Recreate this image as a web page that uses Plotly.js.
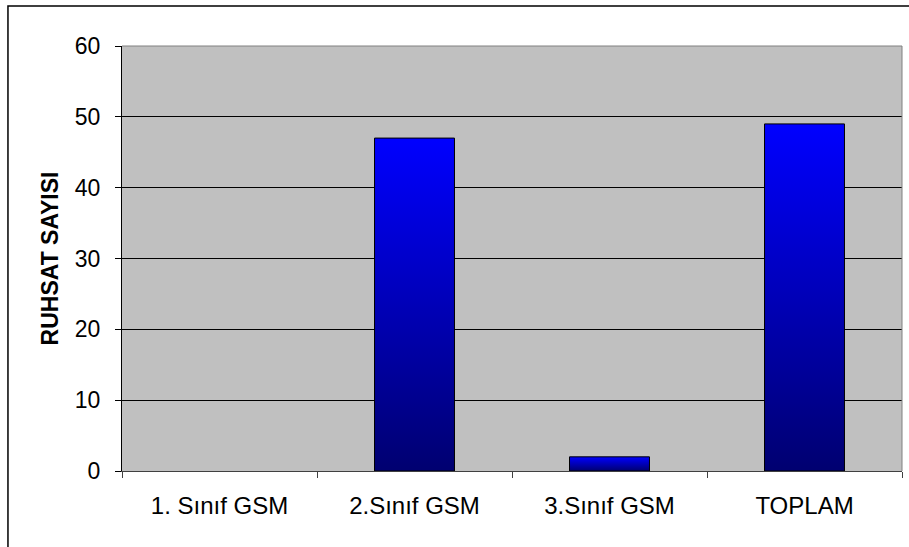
<!DOCTYPE html>
<html>
<head>
<meta charset="utf-8">
<script src="https://cdn.plot.ly/plotly-3.0.1.min.js"></script>
<style>
  html, body { margin: 0; padding: 0; background: #ffffff; }
  #chart { width: 909px; height: 547px; }
</style>
</head>
<body>
<div id="chart"></div>
<script>
// ---- data ----
const categories = ['1. Sınıf GSM', '2.Sınıf GSM', '3.Sınıf GSM', 'TOPLAM'];
const values = [0, 47, 2, 49];
const yTickValues = [0, 10, 20, 30, 40, 50, 60];
const yAxisTitle = 'RUHSAT SAYISI';

// ---- styling ----
const FONT = 'Arial, "Liberation Sans", sans-serif';
const BAR_HALF = 0.205;
const GRADIENT = [[0, '#000070'], [1, '#0000FF']];

const traces = categories.map((cat, i) => ({
  type: 'scatter',
  mode: 'lines',
  name: cat,
  x: [i - BAR_HALF, i + BAR_HALF, i + BAR_HALF, i - BAR_HALF, i - BAR_HALF],
  y: [0, 0, values[i], values[i], 0],
  fill: 'toself',
  fillgradient: { type: 'vertical', colorscale: GRADIENT },
  line: { color: '#000000', width: values[i] === 0 ? 0 : 1 },
  hoverinfo: 'text',
  text: cat + ': ' + values[i],
  showlegend: false
}));

// boundaries between categories for the tick marks
const boundaries = [];
for (let i = 0; i <= categories.length; i++) boundaries.push(i - 0.5);

traces.push({
  type: 'scatter', mode: 'markers', x: [boundaries[0]], y: [0],
  xaxis: 'x2', yaxis: 'y', marker: { opacity: 0 }, hoverinfo: 'skip', showlegend: false
});

const xRange = [boundaries[0], boundaries[boundaries.length - 1]];

const layout = {
  width: 909, height: 547,
  margin: { l: 122, r: 7, t: 46, b: 76 },
  paper_bgcolor: '#ffffff',
  plot_bgcolor: '#C0C0C0',
  font: { family: FONT, size: 22, color: '#000000' },
  showlegend: false,
  xaxis: {
    range: xRange,
    tickvals: categories.map((c, i) => i),
    ticktext: categories,
    ticks: '',
    showgrid: false, zeroline: false,
    showline: true, linecolor: '#404040', linewidth: 1,
    tickfont: { family: FONT, size: 24, color: '#000000' },
    ticklabelstandoff: 13,
    fixedrange: true
  },
  xaxis2: {
    overlaying: 'x', anchor: 'y', side: 'bottom',
    range: xRange,
    tickvals: boundaries,
    ticks: 'outside', ticklen: 6, tickwidth: 1, tickcolor: '#404040',
    showticklabels: false, showgrid: false, zeroline: false, showline: false,
    fixedrange: true
  },
  yaxis: {
    range: [yTickValues[0], yTickValues[yTickValues.length - 1]],
    tickvals: yTickValues,
    ticks: 'outside', ticklen: 6, tickwidth: 1, tickcolor: '#000000',
    showline: true, linecolor: '#000000', linewidth: 1,
    showgrid: true, gridcolor: '#000000', gridwidth: 1,
    zeroline: false,
    tickfont: { family: FONT, size: 23, color: '#000000' },
    ticklabelstandoff: 10,
    title: { text: '<b>' + yAxisTitle + '</b>', font: { family: FONT, size: 23, color: '#000000' }, standoff: 9 },
    fixedrange: true
  },
  shapes: [
    { type: 'path', xref: 'paper', yref: 'paper', path: 'M0,1 L1,1 L1,0',
      line: { color: '#808080', width: 1 } },
    { type: 'rect', xref: 'paper', yref: 'paper',
      x0: -0.1462, x1: 1.0128, y0: -0.19, y1: 1.0941,
      line: { color: '#000000', width: 1.5 } }
  ]
};

Plotly.newPlot('chart', traces, layout, { displayModeBar: false, staticPlot: true });
</script>
</body>
</html>
